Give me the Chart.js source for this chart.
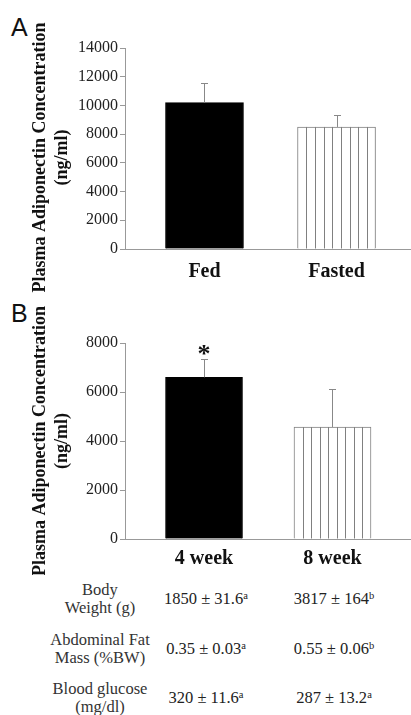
<!DOCTYPE html>
<html>
<head>
<meta charset="utf-8">
<script src="https://cdn.jsdelivr.net/npm/chart.js@4.4.1/dist/chart.umd.min.js"></script>
<style>
  body { margin: 0; background: #fff; width: 411px; height: 715px; position: relative; overflow: hidden;
         font-family: "Liberation Serif", "Times New Roman", serif; color: #222; }
  canvas { position: absolute; left: 0; }
  #chartA { top: 0; }
  #chartB { top: 295px; }
  .panel { position: absolute; font-family: "Liberation Sans", Arial, sans-serif; font-size: 25px; color: #111; line-height: 1; }
  .cell { position: absolute; width: 170px; margin-left: -85px; text-align: center;
          font-family: "Liberation Serif", "Times New Roman", serif; font-size: 16.5px;
          line-height: 18px; transform: translateY(-50%); white-space: nowrap; }
  .cell sup { font-family: "Liberation Serif", serif; font-size: 10.5px; vertical-align: 5px; line-height: 0; }
</style>
</head>
<body>
<div class="panel" style="left:11px;top:15px">A</div>
<div class="panel" style="left:11px;top:301px">B</div>
<canvas id="chartA" width="411" height="295"></canvas>
<canvas id="chartB" width="411" height="280"></canvas>
<div id="table"></div>
<script>
// panel A: fed vs fasted
const groupsA = ["Fed", "Fasted"];
const meanA = [10200, 8500];
const errA = [1330, 830];

// panel B: 4 vs 8 week
const groupsB = ["4 week", "8 week"];
const meanB = [6600, 4570];
const errB = [730, 1540];
const marksB = ["*", ""];

// table under panel B
const rowLabels = [["Body", "Weight (g)"], ["Abdominal Fat", "Mass (%BW)"], ["Blood glucose", "(mg/dl)"]];
const week4 = ["1850 ± 31.6", "0.35 ± 0.03", "320 ± 11.6"];
const week4Sup = ["a", "a", "a"];
const week8 = ["3817 ± 164", "0.55 ± 0.06", "287 ± 13.2"];
const week8Sup = ["b", "b", "a"];

const yTitle = ["Plasma Adiponectin Concentration", "(ng/ml)"];
const SERIF = "'Liberation Serif', 'Times New Roman', serif";
const AXIS = "#999";

const barExtras = {
  id: "barExtras",
  afterDatasetsDraw(chart) {
    const ctx = chart.ctx;
    const yScale = chart.scales.y;
    const ds = chart.data.datasets[0];
    const bars = chart.getDatasetMeta(0).data;
    ctx.save();
    bars.forEach((bar, i) => {
      const { x, y, base, width } = bar.getProps(["x", "y", "base", "width"], true);
      if (ds.hatched[i]) {
        ctx.strokeStyle = "#808080";
        ctx.lineWidth = 1;
        const left = x - width / 2;
        for (let k = 1; k < 9; k++) {
          const lx = Math.round(left + (width * k) / 9) + 0.5;
          ctx.beginPath();
          ctx.moveTo(lx, y);
          ctx.lineTo(lx, base);
          ctx.stroke();
        }
      }
      // error bar (upper only)
      const top = yScale.getPixelForValue(ds.data[i].y + ds.errors[i]);
      const cx = Math.round(x) + 0.5;
      ctx.strokeStyle = "#888";
      ctx.lineWidth = 1;
      ctx.beginPath();
      ctx.moveTo(cx, y);
      ctx.lineTo(cx, top);
      ctx.moveTo(cx - 3.5, Math.round(top) + 0.5);
      ctx.lineTo(cx + 3.5, Math.round(top) + 0.5);
      ctx.stroke();
      if (ds.marks && ds.marks[i]) {
        ctx.fillStyle = "#111";
        ctx.font = "bold 26px " + SERIF;
        ctx.textAlign = "center";
        ctx.textBaseline = "alphabetic";
        ctx.fillText(ds.marks[i], x, top + 3);
      }
    });
    ctx.restore();
  },
};

function makeChart(id, groups, means, errs, marks, cfg) {
  const canvas = document.getElementById(id);
  if (!canvas) return;
  const ctx = canvas.getContext("2d");

  new Chart(ctx, {
    type: "bar",
    data: {
      datasets: [
        {
          data: means.map((v, i) => ({ x: i + 1, y: v })),
          errors: errs,
          marks: marks,
          hatched: [false, true],
          backgroundColor: ["#000", "#fff"],
          borderColor: ["#000", "#808080"],
          borderWidth: 1,
          borderSkipped: "start",
          barThickness: cfg.barWidth,
        },
      ],
    },
    options: {
      responsive: false,
      animation: false,
      devicePixelRatio: 1,
      layout: { padding: { top: 48, left: 0, right: 0, bottom: 0 } },
      plugins: { legend: { display: false }, tooltip: { enabled: false } },
      scales: {
        x: {
          type: "linear",
          min: cfg.xMin,
          max: cfg.xMax,
          offset: false,
          grid: { display: false, drawTicks: false },
          border: { color: AXIS },
          ticks: {
            color: "#111",
            font: { family: SERIF, size: 20, weight: "bold" },
            padding: cfg.labelPad,
            autoSkip: false,
            maxRotation: 0,
            callback: (v) => groups[v - 1],
          },
          afterBuildTicks: (s) => {
            s.ticks = groups.map((_, i) => ({ value: i + 1 }));
          },
          afterFit: (s) => {
            s.height = cfg.xHeight;
          },
        },
        y: {
          min: 0,
          max: cfg.yMax,
          ticks: {
            stepSize: cfg.yStep,
            color: "#222",
            font: { family: SERIF, size: 16 },
            padding: 2,
            callback: (v) => String(v),
          },
          grid: { drawOnChartArea: false, tickLength: 5, color: AXIS },
          border: { color: AXIS },
          title: {
            display: true,
            text: cfg.title,
            color: "#111",
            font: { family: SERIF, size: 18, weight: "bold", lineHeight: 1.22 },
            padding: { top: 29, bottom: 0 },
          },
          afterFit: (s) => {
            s.width = 125;
          },
        },
      },
    },
    plugins: [barExtras],
  });
}

makeChart("chartA", groupsA, meanA, errA, null, {
  yMax: 14000, yStep: 2000, xMin: 0.398, xMax: 2.564, barWidth: 78, labelPad: 11, xHeight: 46,
  title: yTitle.map((t) => t + "    "),
});
makeChart("chartB", groupsB, meanB, errB, marksB, {
  yMax: 8000, yStep: 2000, xMin: 0.385, xMax: 2.611, barWidth: 77, labelPad: 8, xHeight: 36,
  title: yTitle,
});

// table
const table = document.getElementById("table");
const rowY = [599, 649, 698];
rowLabels.forEach((lines, r) => {
  const cells = [
    [100, lines.join("<br>"), "#333"],
    [206, week4[r] + "<sup>" + week4Sup[r] + "</sup>", "#222"],
    [334, week8[r] + "<sup>" + week8Sup[r] + "</sup>", "#222"],
  ];
  cells.forEach(([cx, html, color]) => {
    const d = document.createElement("div");
    d.className = "cell";
    d.style.left = cx + "px";
    d.style.top = rowY[r] + "px";
    d.style.color = color;
    d.innerHTML = html;
    table.appendChild(d);
  });
});
</script>
</body>
</html>
